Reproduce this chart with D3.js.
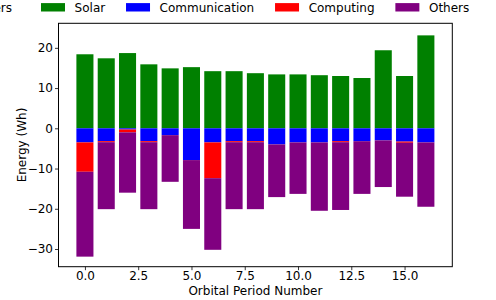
<!DOCTYPE html>
<html>
<head>
<meta charset="utf-8">
<script src="https://cdn.jsdelivr.net/npm/d3@7"></script>
<style>
  html, body { margin: 0; padding: 0; background: #fff; }
  svg { display: block; font-family: "DejaVu Sans", sans-serif; }
</style>
</head>
<body>
<svg id="chart" width="496" height="300"></svg>
<script>
// ---- data ----
const periods = [0,1,2,3,4,5,6,7,8,9,10,11,12,13,14,15,16];
const solar = [18.4,17.4,18.7,15.9,14.9,15.2,14.2,14.2,13.7,13.4,13.4,13.2,13.0,12.5,19.4,13.0,23.1];
const communication = [-3.5,-3.2,-0.3,-3.2,-1.7,-7.9,-3.5,-3.2,-3.2,-4.0,-3.5,-3.5,-3.2,-3.2,-3.0,-3.3,-3.5];
const computing = [-7.3,-0.25,-0.7,-0.25,0,0,-8.9,-0.25,-0.25,0,0,0,-0.25,0,0,-0.3,0];
const others = [-21.1,-16.65,-15.0,-16.65,-11.6,-17.1,-17.8,-16.65,-16.65,-13.1,-12.8,-17.0,-16.85,-13.1,-11.6,-13.4,-16.0];
const seriesNames = ["Solar","Communication","Computing","Others"];
const seriesColors = ["#008000","#0000ff","#ff0000","#800080"];
const xTicks = [0,2.5,5,7.5,10,12.5,15];
const yTicks = [-30,-20,-10,0,10,20];
const hiddenLegendLabel = "Consumers";

const svg = d3.select("#chart");
const plot = {left: 58.5, right: 452.3, top: 23.3, bottom: 266.7};

const x = d3.scaleLinear().domain([-1.24, 17.24]).range([plot.left, plot.right]);
const y = d3.scaleLinear().domain([-34.4, 26.1]).range([plot.bottom, plot.top]);

const table = periods.map((p, i) => ({
  period: p, Solar: solar[i], Communication: communication[i],
  Computing: computing[i], Others: others[i]
}));
const stack = d3.stack().keys(seriesNames).offset(d3.stackOffsetDiverging);
const layers = stack(table);

const barW = x(0.8) - x(0);
const g = svg.append("g");
layers.forEach((layer, li) => {
  g.selectAll(null).data(layer).enter().append("rect")
    .attr("x", d => x(d.data.period - 0.4))
    .attr("width", barW)
    .attr("y", d => y(Math.max(d[0], d[1])))
    .attr("height", d => Math.abs(y(d[0]) - y(d[1])))
    .attr("fill", seriesColors[li]);
});

// axes
const fmtX = d3.format(".1f");
const minus = s => s.replace("-", "\u2212");
const xAxis = d3.axisBottom(x).tickValues(xTicks).tickSize(3.5).tickPadding(1.5)
  .tickFormat(d => fmtX(d));
const yAxis = d3.axisLeft(y).tickValues(yTicks).tickSize(3.5).tickPadding(2)
  .tickFormat(d => minus(String(d)));

const gx = svg.append("g").attr("transform", `translate(0,${plot.bottom})`).call(xAxis);
const gy = svg.append("g").attr("transform", `translate(${plot.left},0)`).call(yAxis);
[gx, gy].forEach(ax => {
  ax.select(".domain").remove();
  ax.selectAll("text").attr("font-size", 12).attr("fill", "#000")
    .attr("font-family", "DejaVu Sans, sans-serif");
  ax.selectAll("line").attr("stroke", "#000").attr("stroke-width", 0.8);
});

// frame
svg.append("rect")
  .attr("x", plot.left).attr("y", plot.top)
  .attr("width", plot.right - plot.left).attr("height", plot.bottom - plot.top)
  .attr("fill", "none").attr("stroke", "#000").attr("stroke-width", 1);

// labels
svg.append("text").attr("x", (plot.left + plot.right) / 2).attr("y", 294.5)
  .attr("text-anchor", "middle").attr("font-size", 12).text("Orbital Period Number");
svg.append("text")
  .attr("transform", `translate(26,${(plot.top + plot.bottom) / 2}) rotate(-90)`)
  .attr("text-anchor", "middle").attr("font-size", 12).text("Energy (Wh)");

// legend (row at top; an extra entry is clipped at the left edge)
const fs = 12, handleLen = 24, textPad = 9.6;
const leg = svg.append("g");
const measure = leg.append("text").attr("font-size", fs);
const widths = seriesNames.map(n => { measure.text(n); return measure.node().getComputedTextLength(); });
measure.remove();
const legendLeft = plot.left - 17.5, legendRight = plot.right + 17;
const colSpace = (legendRight - legendLeft - d3.sum(widths) - seriesNames.length * (handleLen + textPad)) / (seriesNames.length - 1);
let cx = legendLeft;
const legY = 7.3;
seriesNames.forEach((n, i) => {
  leg.append("rect").attr("x", cx).attr("y", legY - 4.2).attr("width", handleLen).attr("height", 8.4)
    .attr("fill", seriesColors[i]);
  leg.append("text").attr("x", cx + handleLen + textPad).attr("y", legY + 4.3)
    .attr("font-size", fs).text(n);
  if (i === 0) {
    leg.append("text").attr("x", cx - 29).attr("y", legY + 4.3)
      .attr("text-anchor", "end").attr("font-size", fs).text(hiddenLegendLabel);
  }
  cx += handleLen + textPad + widths[i] + colSpace;
});
</script>
</body>
</html>
